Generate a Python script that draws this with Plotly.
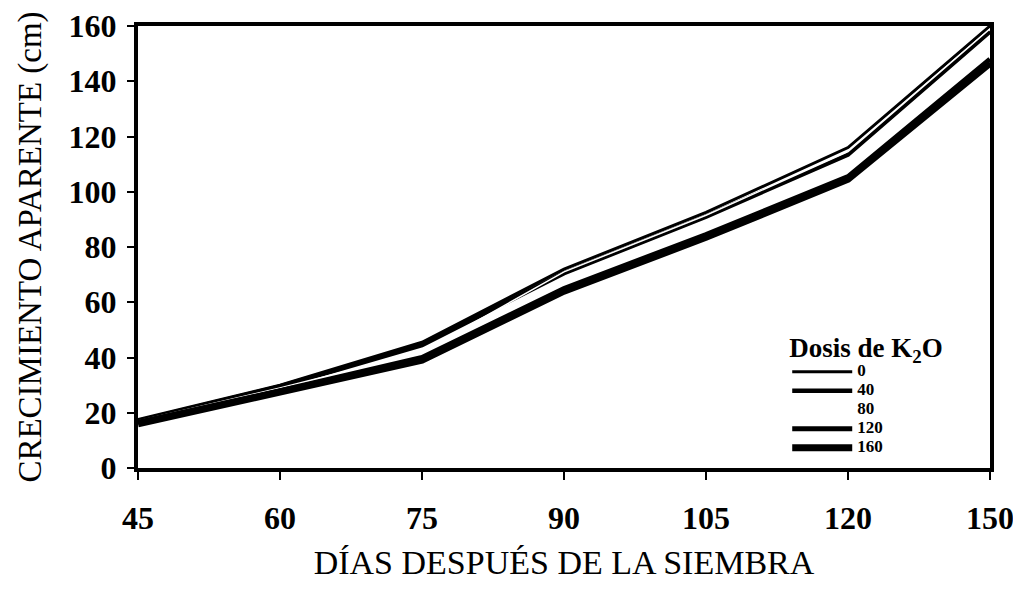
import plotly.graph_objects as go

dias = ["45", "60", "75", "90", "105", "120", "150"]
dosis = ["0", "40", "80", "120", "160"]
k0 = [17.5, 30.0, 45.5, 72.0, 92.5, 116.0, 160.0]
k40 = [17.0, 29.5, 44.5, 70.5, 91.0, 113.5, 158.0]
k80 = [17.0, 29.0, 42.0, 71.0, 91.5, 114.5, 159.0]
k120 = [16.5, 28.0, 40.0, 65.0, 84.5, 105.5, 148.0]
k160 = [16.0, 27.5, 39.0, 64.0, 83.5, 104.5, 146.5]
series = [k0, k40, k80, k120, k160]
colors = ["black", "black", "white", "black", "black"]
widths = [3, 4.5, 1.5, 5, 7]

SERIF = "Liberation Serif"

fig = go.Figure()
for name, vals, c, w in zip(dosis, series, colors, widths):
    fig.add_trace(go.Scatter(
        x=dias, y=vals, mode="lines",
        name="<span style='font-size:17px'>" + name + "</span>",
        line=dict(color=c, width=w)))

# page body has an 8px margin, so the figure is sized/offset to compensate
fig.update_layout(
    width=1005, height=573,
    margin=dict(l=130, r=23, t=18, b=113, autoexpand=False),
    paper_bgcolor="white", plot_bgcolor="white",
    showlegend=True,
    legend=dict(
        title=dict(text="Dosis de K<sub>2</sub>O",
                   font=dict(family=SERIF, size=27, color="black", weight="bold")),
        font=dict(family=SERIF, size=12, color="black", weight="bold"),
        x=0.762, y=0.33, xanchor="left", yanchor="top",
        bgcolor="rgba(0,0,0,0)", itemwidth=60, tracegroupgap=0,
    ),
    xaxis=dict(
        type="category", categoryorder="array", categoryarray=dias,
        range=[0, 6], showgrid=False, zeroline=False, automargin=False,
        showline=True, linecolor="black", linewidth=4, mirror=True,
        ticks="outside", ticklen=8, tickwidth=2, tickcolor="black",
        ticklabelstandoff=11,
        tickfont=dict(family=SERIF, size=32, color="black", weight="bold"),
        title=dict(text="DÍAS DESPUÉS DE LA SIEMBRA", standoff=16,
                   font=dict(family=SERIF, size=34, color="black")),
    ),
    yaxis=dict(
        range=[0, 160], tickvals=[0, 20, 40, 60, 80, 100, 120, 140, 160],
        showgrid=False, zeroline=False, automargin=False,
        showline=True, linecolor="black", linewidth=4, mirror=True,
        ticks="outside", ticklen=7, tickwidth=2, tickcolor="black",
        ticklabelstandoff=4,
        tickfont=dict(family=SERIF, size=32, color="black", weight="bold"),
        title=dict(text="CRECIMIENTO APARENTE (cm)", standoff=18,
                   font=dict(family=SERIF, size=33, color="black")),
    ),
)

fig.write_html("out.html")
